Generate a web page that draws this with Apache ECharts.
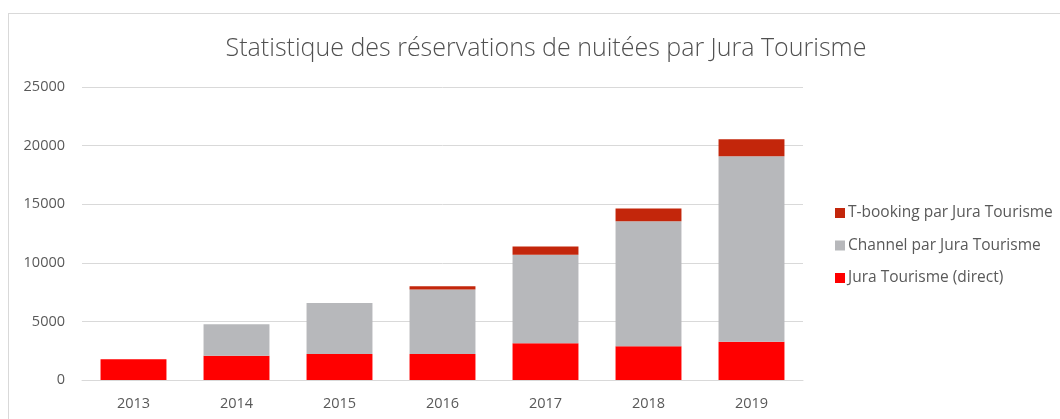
<!DOCTYPE html>
<html>
<head>
<meta charset="utf-8">
<script src="https://cdn.jsdelivr.net/npm/echarts@6/dist/echarts.min.js"></script>
<style>
    html, body { margin: 0; padding: 0; background: #fff; }
    #frame { position: absolute; left: 8px; top: 13px; width: 1100px; height: 500px;
        border-left: 1px solid #d9d9d9; border-top: 1px solid #d9d9d9; }
    #main { position: absolute; left: 0; top: 0; width: 1060px; height: 419px; }
</style>
</head>
<body>
<div id="frame"></div>
<div id="main"></div>
<script>
    var years = ['2013', '2014', '2015', '2016', '2017', '2018', '2019'];
    var direct = [1770, 2070, 2215, 2215, 3130, 2870, 3265];
    var channel = [0, 2680, 4350, 5515, 7550, 10685, 15835];
    var tbooking = [0, 0, 0, 260, 720, 1085, 1450];

    var chart = echarts.init(document.getElementById('main'));
    var textColor = '#595959';
    var option = {
        animation: false,
        title: {
            text: 'Statistique des réservations de nuitées par Jura Tourisme',
            left: 541,
            textAlign: 'center',
            top: 31,
            textStyle: {
                fontFamily: 'Open Sans',
                fontWeight: 300,
                fontSize: 25,
                color: '#505050'
            }
        },
        legend: {
            orient: 'vertical',
            left: 830,
            top: 200,
            itemWidth: 10,
            itemHeight: 10,
            itemGap: 16.5,
            icon: 'rect',
            data: ['T-booking par Jura Tourisme', 'Channel par Jura Tourisme', 'Jura Tourisme (direct)'],
            textStyle: { fontFamily: 'Open Sans', fontSize: 15.5, color: textColor, padding: [0, 0, 0, -2] }
        },
        grid: { left: 82, right: 257, top: 87, bottom: 39 },
        xAxis: {
            type: 'category',
            data: years,
            axisLine: { lineStyle: { color: '#d9d9d9' } },
            axisTick: { show: false },
            axisLabel: { fontFamily: 'Open Sans', fontSize: 14.5, color: textColor, margin: 16 }
        },
        yAxis: {
            type: 'value',
            min: 0,
            max: 25000,
            interval: 5000,
            axisLine: { show: false },
            axisTick: { show: false },
            splitLine: { lineStyle: { color: '#d9d9d9' } },
            axisLabel: {
                fontFamily: 'Open Sans', fontSize: 14.5, color: textColor, margin: 17,
                formatter: function (v) { return String(v); }
            }
        },
        series: [
            {
                name: 'Jura Tourisme (direct)',
                type: 'bar',
                stack: 'total',
                barCategoryGap: '36%',
                itemStyle: { color: '#ff0000' },
                data: direct
            },
            {
                name: 'Channel par Jura Tourisme',
                type: 'bar',
                stack: 'total',
                itemStyle: { color: '#b7b8bb' },
                data: channel
            },
            {
                name: 'T-booking par Jura Tourisme',
                type: 'bar',
                stack: 'total',
                itemStyle: { color: '#c3260b' },
                data: tbooking
            }
        ]
    };
    chart.setOption(option);
</script>
</body>
</html>
